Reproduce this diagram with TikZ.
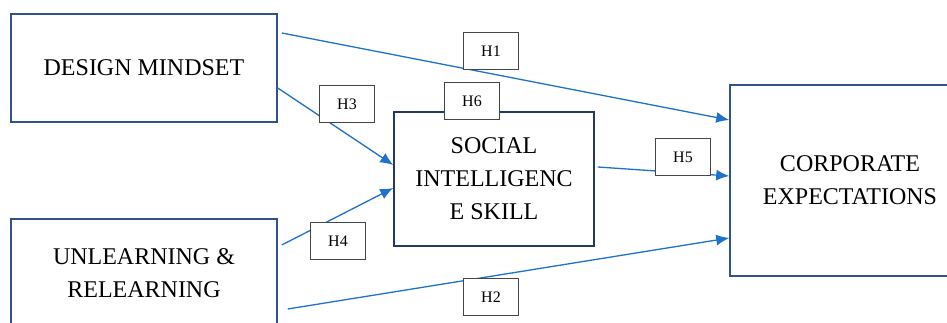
\documentclass[tikz,border=0pt]{standalone}
\usepackage{fontspec}
\setmainfont{Liberation Serif}
\usetikzlibrary{arrows.meta,calc}

\begin{document}
\begin{tikzpicture}[
    x=1pt, y=1pt,
    construct/.style={rectangle, draw=boxblue, line width=1.5pt, align=center, font=\fontsize{24}{33}\selectfont, inner sep=0pt},
    hyp/.style={rectangle, draw=gray!55!black, line width=1.4pt, fill=white, minimum width=55pt, minimum height=37pt, font=\fontsize{16}{18}\selectfont, inner sep=0pt},
    path/.style={draw=arrowblue, line width=1.3pt, -{Latex[length=13pt,width=11pt]}}
]
    \definecolor{boxblue}{HTML}{34528A}
    \definecolor{arrowblue}{HTML}{1F72CC}
    \clip (0,0) rectangle (947,323);

    % Constructs
    \node[construct, minimum width=266pt, minimum height=108pt] (mindset) at (144,255) {DESIGN MINDSET};
    \node[construct, minimum width=266pt, minimum height=108pt] (unlearn) at (144,50) {UNLEARNING \&\\RELEARNING};
    \node[construct, draw=boxblue!70!black, minimum width=200pt, minimum height=134pt] (social) at (494,144) {SOCIAL\\INTELLIGENC\\E SKILL};
    \node[construct, minimum width=240pt, minimum height=191pt] (corporate) at (850,142.5) {CORPORATE\\EXPECTATIONS};

    % Paths
    \draw[path] ($(mindset.east)+(4,35)$) -- ($(corporate.west)+(0,60.5)$);
    \draw[path] ($(mindset.east)+(0,-20)$) -- ($(social.west)+(0,14)$);
    \draw[path] ($(unlearn.east)+(4,28)$) -- ($(social.west)+(0,-9)$);
    \draw[path] ($(social.east)+(3,12)$) -- ($(corporate.west)+(0,4.5)$);
    \draw[path] ($(unlearn.east)+(10,-36)$) -- ($(corporate.west)+(0,-57.5)$);

    % Hypothesis labels
    \node[hyp] (h1) at (491,272) {H1};
    \node[hyp] (h2) at (491,26) {H2};
    \node[hyp] (h3) at (347,219) {H3};
    \node[hyp] (h4) at (338,82) {H4};
    \node[hyp] (h5) at (683,166) {H5};
    \node[hyp] (h6) at (472,222) {H6};
\end{tikzpicture}
\end{document}
